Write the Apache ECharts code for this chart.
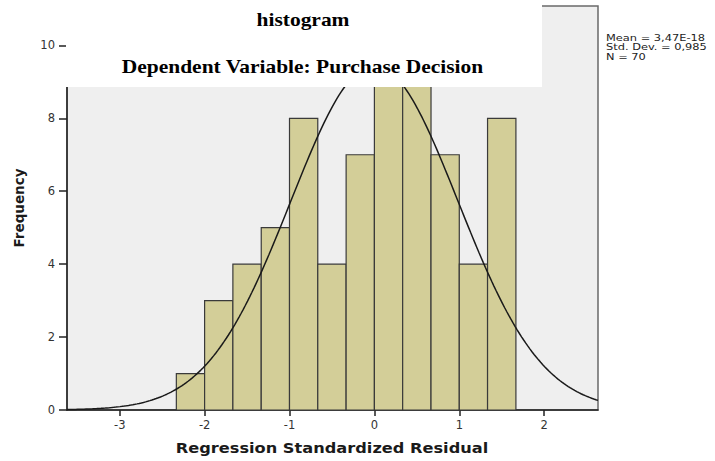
<!DOCTYPE html>
<html>
<head>
<meta charset="utf-8">
<script src="https://cdn.jsdelivr.net/npm/echarts@6/dist/echarts.min.js"></script>
<style>
  html, body { margin: 0; padding: 0; background: #ffffff; }
  #chart { width: 715px; height: 461px; }
</style>
</head>
<body>
<div id="chart"></div>
<script>
// Histogram bins: lower/upper edges of each bar and its frequency
const binLower = [-2.333, -2.0, -1.667, -1.333, -1.0, -0.667, -0.333, 0.0, 0.333, 0.667, 1.0, 1.333];
const binUpper = [-2.0, -1.667, -1.333, -1.0, -0.667, -0.333, 0.0, 0.333, 0.667, 1.0, 1.333, 1.667];
const frequencies = [1, 3, 4, 5, 8, 4, 7, 9, 10, 7, 4, 8];

// Axis tick values
const xTicks = [-3, -2, -1, 0, 1, 2];
const yTicks = [0, 2, 4, 6, 8, 10];

// Summary statistics shown beside the plot
const mean = 3.47e-18;
const stdDev = 0.985;
const n = 70;
const statLines = ['Mean = 3,47E-18', 'Std. Dev. = 0,985', 'N = 70'];

const xMin = -3.621, xMax = 2.634;
const yMax = 11.08;

const barData = binLower.map((lo, i) => [lo, binUpper[i], frequencies[i]]);

// Normal curve scaled to the histogram (count * bin width * density)
const binWidth = binUpper[0] - binLower[0];
const curve = [];
const steps = 250;
for (let i = 0; i <= steps; i++) {
  const x = xMin + (xMax - xMin) * i / steps;
  const z = (x - mean) / stdDev;
  const y = n * binWidth / (stdDev * Math.sqrt(2 * Math.PI)) * Math.exp(-0.5 * z * z);
  curve.push([x, y]);
}

const sans = 'DejaVu Sans';
const chart = echarts.init(document.getElementById('chart'), null, { renderer: 'svg' });

chart.setOption({
  animation: false,
  backgroundColor: '#ffffff',
  grid: {
    left: 67, right: 117, top: 6, bottom: 51,
    show: true, backgroundColor: '#EFEFEF',
    borderColor: '#6a6a6a', borderWidth: 1.5
  },
  xAxis: {
    type: 'value', min: xMin, max: xMax,
    axisLine: { show: true, onZero: false, lineStyle: { color: '#222', width: 1.5 } },
    axisTick: { show: true, length: 6, customValues: xTicks, lineStyle: { color: '#222', width: 1.5 } },
    axisLabel: { customValues: xTicks, margin: 9, fontFamily: sans, fontSize: 11.5, color: '#333' },
    splitLine: { show: false }
  },
  yAxis: {
    type: 'value', min: 0, max: yMax,
    axisLine: { show: true, onZero: false, lineStyle: { color: '#222', width: 1.5 } },
    axisTick: { show: true, length: 8, customValues: yTicks, lineStyle: { color: '#222', width: 1.5 } },
    axisLabel: { customValues: yTicks, margin: 12, fontFamily: sans, fontSize: 11.5, color: '#333' },
    splitLine: { show: false }
  },
  series: [
    {
      type: 'custom',
      z: 2,
      data: barData,
      encode: { x: [0, 1], y: 2 },
      renderItem: function (params, api) {
        const topLeft = api.coord([api.value(0), api.value(2)]);
        const bottomRight = api.coord([api.value(1), 0]);
        return {
          type: 'rect',
          shape: {
            x: topLeft[0], y: topLeft[1],
            width: bottomRight[0] - topLeft[0],
            height: bottomRight[1] - topLeft[1]
          },
          style: { fill: '#D3CE98', stroke: '#3a3a3a', lineWidth: 1.2 }
        };
      }
    },
    {
      type: 'line',
      z: 3,
      data: curve,
      showSymbol: false,
      smooth: false,
      lineStyle: { color: '#1a1a1a', width: 1.5 }
    }
  ],
  graphic: [
    {
      type: 'rect', z: 100,
      shape: { x: 66, y: 0, width: 476, height: 87 },
      style: { fill: '#ffffff' }
    },
    {
      type: 'text', z: 101, x: 303, y: 19.5, scaleX: 1.13,
      style: {
        text: 'histogram', textAlign: 'center', textVerticalAlign: 'middle',
        font: 'bold 19px "Liberation Serif"', fill: '#000'
      }
    },
    {
      type: 'text', z: 101, x: 302.5, y: 66.5, scaleX: 1.13,
      style: {
        text: 'Dependent Variable: Purchase Decision', textAlign: 'center', textVerticalAlign: 'middle',
        font: 'bold 19px "Liberation Serif"', fill: '#000'
      }
    },
    {
      type: 'text', z: 101, x: 332, y: 448, scaleX: 1.2,
      style: {
        text: 'Regression Standardized Residual', textAlign: 'center', textVerticalAlign: 'middle',
        font: 'bold 13.5px "DejaVu Sans"', fill: '#1a1a1a'
      }
    },
    {
      type: 'text', z: 101, x: 18.5, y: 208, rotation: Math.PI / 2,
      style: {
        text: 'Frequency', textAlign: 'center', textVerticalAlign: 'middle',
        font: 'bold 13.5px "DejaVu Sans"', fill: '#1a1a1a'
      }
    }
  ].concat(statLines.map((t, i) => ({
    type: 'text', z: 101, x: 606, y: 37 + i * 9.5, scaleX: 1.2,
    style: {
      text: t, textAlign: 'left', textVerticalAlign: 'middle',
      font: '9.5px "DejaVu Sans"', fill: '#222'
    }
  })))
});
</script>
</body>
</html>
